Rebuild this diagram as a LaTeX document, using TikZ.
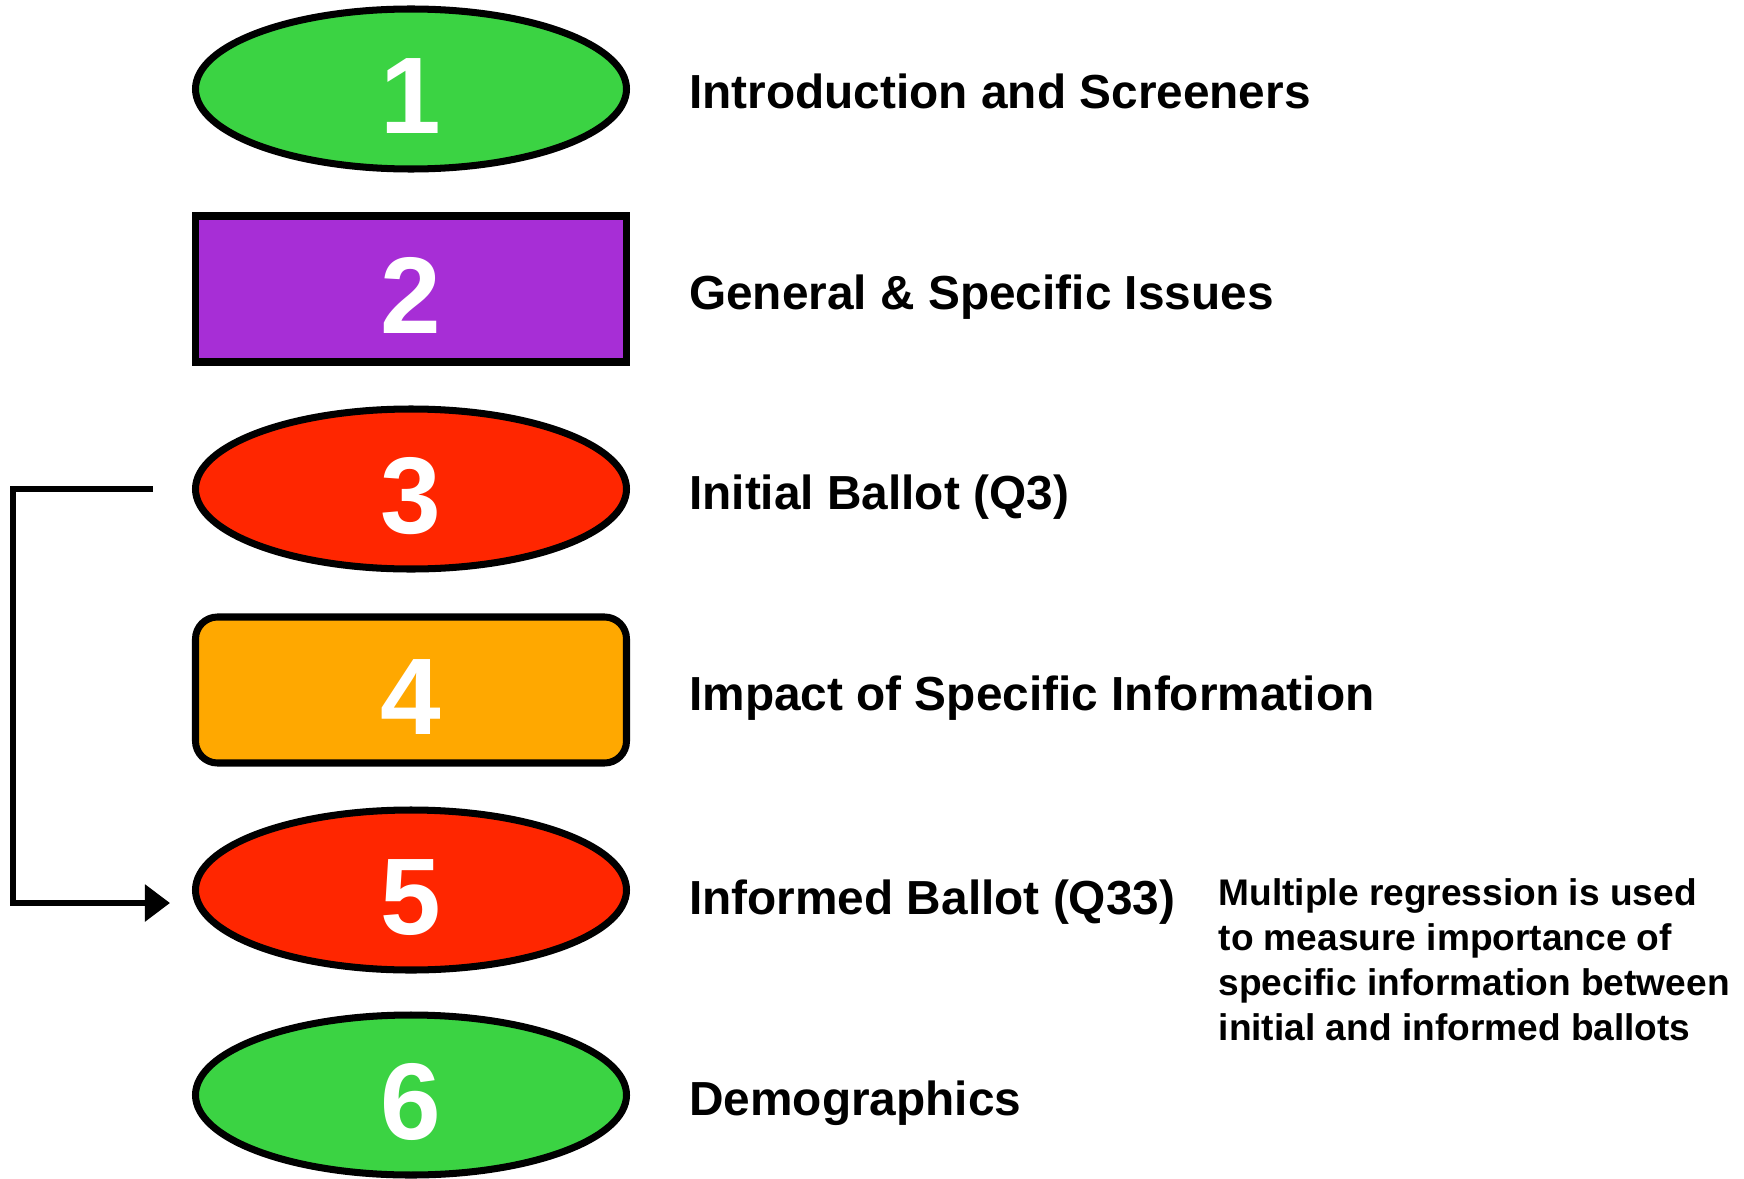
\documentclass[tikz,border=0pt]{standalone}
\usepackage{fontspec}
\setmainfont{Liberation Sans}
\usepackage{xcolor}
\usetikzlibrary{calc}
\usetikzlibrary{positioning}
\usetikzlibrary{shapes.geometric}
\usetikzlibrary{arrows.meta}
\definecolor{gcol}{HTML}{3BD343}
\definecolor{pcol}{HTML}{A72ED6}
\definecolor{rcol}{HTML}{FF2600}
\definecolor{ocol}{HTML}{FFA800}
\newcommand{\stagefont}{\bfseries\fontsize{31}{31}\selectfont}
\newcommand{\titlefont}{\bfseries\fontsize{13.6}{16}\selectfont}
\newcommand{\notefont}{\bfseries\fontsize{10.55}{12.8}\selectfont}

\begin{document}
\begin{tikzpicture}
\tikzstyle{ostyle}=[ellipse, draw, line width=2pt, minimum width=4.31cm, minimum height=1.6cm, inner sep=0pt, text height=0.89cm, text depth=0pt, text=white, font=\stagefont]
\tikzstyle{rstyle}=[rectangle, draw, line width=2pt, minimum width=4.31cm, minimum height=1.46cm, inner sep=0pt, text height=0.89cm, text depth=0pt, text=white, font=\stagefont]
\tikzstyle{tstyle}=[anchor=base west, inner sep=0pt, font=\titlefont]
\tikzstyle{arrow}=[line width=1.6pt, -{Triangle[length=0.25cm, width=0.36cm]}]

\useasboundingbox (0,0) rectangle (17.44,-11.78);

\coordinate (A) at (4.11,-0.89);
\coordinate (B) at ($(A)+(0,-2.0)$);
\coordinate (C) at ($(B)+(0,-2.0)$);
\coordinate (D) at ($(C)+(0,-2.01)$);
\coordinate (E) at ($(D)+(0,-2.0)$);
\coordinate (F) at ($(E)+(0,-2.05)$);

\node[ostyle, fill=gcol] (n1) at (A) {1};
\node[rstyle, fill=pcol] (n2) at (B) {2};
\node[ostyle, fill=rcol] (n3) at (C) {3};
\node[rstyle, fill=ocol, rounded corners=0.22cm] (n4) at (D) {4};
\node[ostyle, fill=rcol] (n5) at (E) {5};
\node[ostyle, fill=gcol] (n6) at (F) {6};

% titles
\node[tstyle] (t1) at ($(n1.east)+(0.585,-0.2)$) {Introduction and Screeners};
\node[tstyle] (t2) at ($(n2.east)+(0.585,-0.2)$) {General \& Specific Issues};
\node[tstyle] (t3) at ($(n3.east)+(0.585,-0.2)$) {Initial Ballot (Q3)};
\node[tstyle] (t4) at ($(n4.east)+(0.585,-0.2)$) {Impact of Specific Information};
\node[tstyle] (t5) at ($(n5.east)+(0.585,-0.24)$) {Informed Ballot (Q33)};
\node[tstyle] (t6) at ($(n6.east)+(0.585,-0.2)$) {Demographics};

% regression note
\node[anchor=north west, inner sep=0pt, align=left, font=\notefont] (note) at (12.18,-8.78)
  {Multiple regression is used\\to measure importance of\\specific information between\\initial and informed ballots};

% ballot link
\draw[arrow] ([xshift=-0.39cm]n3.west) -- ++(-1.40,0) |- ([xshift=-0.22cm, yshift=-0.13cm]n5.west);
\end{tikzpicture}
\end{document}
